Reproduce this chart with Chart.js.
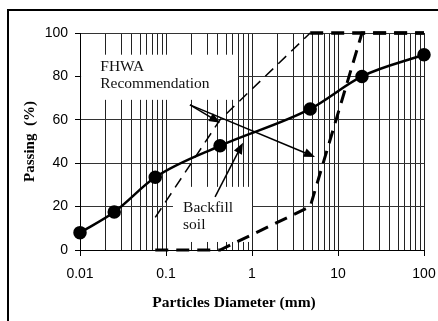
<!DOCTYPE html>
<html>
<head>
<meta charset="utf-8">
<script src="https://cdn.jsdelivr.net/npm/chart.js@4.4.1/dist/chart.umd.min.js"></script>
<style>
  html, body { margin: 0; padding: 0; background: #fff; }
  #wrap { position: relative; width: 438px; height: 321px; }
  canvas { background: #fff; }
</style>
</head>
<body>
<div id="wrap"><canvas id="gradChart" width="438" height="321"></canvas></div>
<script>
// backfill soil grading curve (particle size in mm, % passing)
const sieveSizes = [0.01, 0.025, 0.075, 0.425, 4.75, 19, 100];
const backfillPassing = [8, 17.5, 33.5, 48, 65, 80, 90];

// FHWA recommended envelope
const fhwaFineSizes = [0.075, 0.425, 4.75, 100];
const fhwaFinePassing = [15, 60, 100, 100];
const fhwaCoarseSizes = [0.075, 0.425, 4.75, 19, 100];
const fhwaCoarsePassing = [0, 0, 20, 100, 100];

// axis ticks
const xTickLabels = [0.01, 0.1, 1, 10, 100];
const yTickLabels = [0, 20, 40, 60, 80, 100];

// annotations, in data units (mm, %)
const noteBoxes = [
  { x0: 0.0103, x1: 0.687, y0: 69.2, y1: 90, tx: 0.0172, ty: [82.6, 74.8], lines: ['FHWA', 'Recommendation'] },
  { x0: 0.1205, x1: 1.0, y0: 3.7, y1: 29.1, tx: 0.158, ty: [17.5, 9.7], lines: ['Backfill', 'soil'] }
];
const noteArrows = [
  { from: [0.19, 66.9], to: [0.425, 58.6] },
  { from: [0.19, 66.9], to: [5.4, 42.9] },
  { from: [0.372, 24.5], to: [0.785, 49.4] }
];

const toXY = (xs, ys) => xs.map((x, i) => ({ x: x, y: ys[i] }));
const isDecade = v => Math.abs(Math.log10(v) - Math.round(Math.log10(v))) < 1e-9;

function drawArrow(ctx, x0, y0, x1, y1) {
  const a = Math.atan2(y1 - y0, x1 - x0);
  const len = 11, half = 4.5;
  const c = Math.cos(a), s = Math.sin(a);
  ctx.beginPath();
  ctx.moveTo(x0, y0);
  ctx.lineTo(x1 - len * 0.7 * c, y1 - len * 0.7 * s);
  ctx.stroke();
  ctx.beginPath();
  ctx.moveTo(x1, y1);
  ctx.lineTo(x1 - len * c + half * s, y1 - len * s - half * c);
  ctx.lineTo(x1 - len * c - half * s, y1 - len * s + half * c);
  ctx.closePath();
  ctx.fill();
}

const notesPlugin = {
  id: 'notes',
  beforeDraw(chart) {
    // outer frame (top and left edges visible)
    const ctx = chart.ctx;
    ctx.save();
    ctx.strokeStyle = '#000';
    ctx.lineWidth = 2;
    ctx.beginPath();
    ctx.moveTo(8, chart.height);
    ctx.lineTo(8, 10);
    ctx.lineTo(chart.width, 10);
    ctx.stroke();
    ctx.restore();
  },
  beforeDatasetsDraw(chart) {
    const { ctx, scales: { x, y } } = chart;
    ctx.save();
    ctx.fillStyle = '#fff';
    noteBoxes.forEach(b => {
      const l = x.getPixelForValue(b.x0), r = x.getPixelForValue(b.x1);
      const t = y.getPixelForValue(b.y1), btm = y.getPixelForValue(b.y0);
      ctx.fillRect(l, t, r - l, btm - t);
    });
    ctx.restore();
  },
  afterDatasetsDraw(chart) {
    const { ctx, scales: { x, y }, chartArea } = chart;
    ctx.save();
    ctx.fillStyle = '#111';
    ctx.font = '15.5px "Liberation Serif", "Times New Roman", serif';
    ctx.textBaseline = 'alphabetic';
    noteBoxes.forEach(b => {
      b.lines.forEach((txt, i) => {
        ctx.fillText(txt, x.getPixelForValue(b.tx), y.getPixelForValue(b.ty[i]));
      });
    });
    ctx.strokeStyle = '#000';
    ctx.fillStyle = '#000';
    ctx.lineWidth = 1.5;
    noteArrows.forEach(a => {
      drawArrow(ctx,
        x.getPixelForValue(a.from[0]), y.getPixelForValue(a.from[1]),
        x.getPixelForValue(a.to[0]), y.getPixelForValue(a.to[1]));
    });
    // x axis title (sits left of the plot centre in the original)
    ctx.fillStyle = '#000';
    ctx.font = 'bold 15.5px "Liberation Serif", "Times New Roman", serif';
    ctx.textAlign = 'center';
    ctx.textBaseline = 'middle';
    ctx.fillText('Particles Diameter (mm)', chartArea.left + 154, chartArea.bottom + 53);
    ctx.restore();
  }
};

const tickFont = { family: '"Liberation Sans", Arial, sans-serif', size: 14 };

new Chart(document.getElementById('gradChart'), {
  type: 'line',
  data: {
    datasets: [
      {
        label: 'Backfill soil',
        data: toXY(sieveSizes, backfillPassing),
        borderColor: '#000',
        borderWidth: 2.5,
        pointRadius: 5.5,
        pointBackgroundColor: '#000',
        pointBorderColor: '#000',
        cubicInterpolationMode: 'monotone',
        clip: false,
        order: 0
      },
      {
        label: 'FHWA fine limit',
        data: toXY(fhwaFineSizes, fhwaFinePassing),
        borderColor: '#000',
        borderWidth: 1.5,
        borderDash: [11, 7],
        pointRadius: 0,
        tension: 0,
        clip: false,
        segment: { borderWidth: c => c.p0DataIndex >= 2 ? 3.5 : 1.5, borderDash: c => c.p0DataIndex >= 2 ? [13, 8] : [11, 7] },
        order: 1
      },
      {
        label: 'FHWA coarse limit',
        data: toXY(fhwaCoarseSizes, fhwaCoarsePassing),
        borderColor: '#000',
        borderWidth: 3,
        borderDash: [13, 8],
        pointRadius: 0,
        tension: 0,
        clip: false,
        order: 2
      }
    ]
  },
  options: {
    responsive: false,
    animation: false,
    layout: { padding: { top: 33, right: 14, left: 0, bottom: 0 } },
    plugins: { legend: { display: false }, tooltip: { enabled: false } },
    scales: {
      x: {
        type: 'logarithmic',
        min: 0.01,
        max: 100,
        afterBuildTicks(scale) {
          const ticks = [];
          for (let i = 0; i < xTickLabels.length - 1; i++) {
            for (let m = 1; m <= 9; m++) ticks.push({ value: m * xTickLabels[i] });
          }
          ticks.push({ value: xTickLabels[xTickLabels.length - 1] });
          scale.ticks = ticks;
        },
        ticks: {
          autoSkip: false,
          maxRotation: 0,
          padding: 10,
          color: '#000',
          font: tickFont,
          callback: v => isDecade(v) ? String(xTickLabels.find(t => Math.abs(t - v) < t * 1e-6)) : ''
        },
        grid: {
          color: '#222',
          lineWidth: 1,
          tickLength: 6,
          tickColor: c => (c.tick && isDecade(c.tick.value)) ? '#000' : 'rgba(0,0,0,0)'
        },
        border: { color: '#000', width: 1 },
        afterFit(scale) { scale.height = 71; scale.paddingLeft = 0; scale.paddingRight = 0; }
      },
      y: {
        min: 0,
        max: 100,
        afterBuildTicks(scale) { scale.ticks = yTickLabels.map(v => ({ value: v })); },
        ticks: { padding: 7, color: '#000', font: tickFont },
        grid: { color: '#333', lineWidth: 1, tickLength: 5, tickColor: '#000' },
        border: { color: '#000', width: 1 },
        title: {
          display: true,
          text: 'Passing  (%)',
          color: '#000',
          font: { family: '"Liberation Serif", "Times New Roman", serif', size: 15, weight: 'bold' },
          padding: { top: 21, bottom: 0 }
        },
        afterFit(scale) { scale.width = 80; scale.paddingTop = 0; scale.paddingBottom = 0; }
      }
    }
  },
  plugins: [notesPlugin]
});
</script>
</body>
</html>
